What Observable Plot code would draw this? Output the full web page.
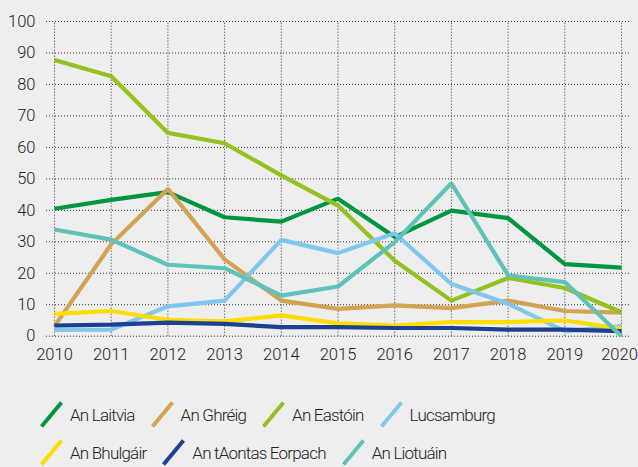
<!DOCTYPE html>
<html>
<head>
<meta charset="utf-8">
<script src="https://cdn.jsdelivr.net/npm/d3@7"></script>
<script src="https://cdn.jsdelivr.net/npm/@observablehq/plot@0.6"></script>
<style>
  html, body { margin: 0; padding: 0; background: #eeeeee; }
  body { width: 638px; height: 467px; overflow: hidden; font-family: Roboto, "Noto Sans", sans-serif; color: #333; }
  #legend { padding-left: 40px; margin-top: 31px; font-size: 17px; font-weight: 300; letter-spacing: -0.8px; color: #222; }
  .row { display: flex; align-items: center; height: 27px; margin-bottom: 11px; }
  .item { display: flex; align-items: center; margin-right: 16px; }
  .item svg { margin-right: 7px; display: block; }
</style>
</head>
<body>
<div id="chart"></div>
<div id="legend"></div>
<script>
const years = [2010, 2011, 2012, 2013, 2014, 2015, 2016, 2017, 2018, 2019, 2020];
const yTicks = [0, 10, 20, 30, 40, 50, 60, 70, 80, 90, 100];

const names = ["An Laitvia", "An Ghréig", "An Eastóin", "Lucsamburg", "An Bhulgáir", "An tAontas Eorpach", "An Liotuáin"];
const colors = ["#00963f", "#d1a352", "#95c11f", "#80c7ef", "#ffdd00", "#1d3f91", "#5fc2b9"];

const laitvia    = [40.5, 43.3, 45.8, 37.8, 36.4, 43.7, 31.5, 39.9, 37.5, 22.9, 21.8];
const ghreig     = [3.2, 29.2, 46.8, 24.4, 11.3, 8.7, 9.8, 8.9, 11.3, 8.0, 7.5];
const eastoin    = [87.8, 82.6, 64.6, 61.3, 51.1, 41.5, 24.0, 11.3, 18.5, 15.3, 7.6];
const lucsamburg = [2.0, 2.1, 9.5, 11.3, 30.6, 26.4, 32.7, 16.6, 10.3, 1.6, 3.2];
const bhulgair   = [7.1, 8.0, 5.2, 4.7, 6.6, 4.1, 3.4, 4.5, 4.5, 5.0, 2.4];
const aontas     = [3.4, 3.7, 4.3, 3.9, 2.9, 2.9, 2.6, 2.6, 2.1, 2.1, 1.6];
const liotuain   = [33.9, 30.7, 22.7, 21.6, 12.9, 15.8, 29.9, 48.6, 19.3, 17.2, 0.0];

const seriesValues = [laitvia, ghreig, eastoin, lucsamburg, bhulgair, aontas, liotuain];
const data = [];
names.forEach((n, i) => {
  seriesValues[i].forEach((v, j) => data.push({country: n, year: years[j], value: v}));
});

const lastYear = years[years.length - 1];

const chart = Plot.plot({
  width: 638,
  height: 370,
  marginLeft: 46,
  marginRight: 8,
  marginTop: 21,
  marginBottom: 34.3,
  style: { background: "transparent", fontFamily: "Roboto, 'Noto Sans', sans-serif", fontSize: "16px", fontWeight: 300, color: "#222" },
  x: { domain: [2010, 2020], insetLeft: 8, insetRight: 9 },
  y: { domain: [0, 100] },
  color: { domain: names, range: colors },
  marks: [
    Plot.ruleY(yTicks, { stroke: "#333", strokeDasharray: "1,2", strokeWidth: 1 }),
    Plot.ruleX(years, { y1: 0, y2: 100, stroke: "#333", strokeDasharray: "1,2", strokeWidth: 1 }),
    Plot.axisY(yTicks, { tickSize: 0, tickPadding: 11, fontSize: 16.5, label: null }),
    Plot.axisX(years.slice(0, -1), { tickSize: 0, tickPadding: 12, fontSize: 16.5, tickFormat: d => String(d), label: null }),
    Plot.axisX([lastYear], { tickSize: 0, tickPadding: 12, fontSize: 16.5, dx: -2, tickFormat: d => String(d), label: null }),
    Plot.line(data, { x: "year", y: "value", z: "country", stroke: "country", strokeWidth: 4.2, strokeLinejoin: "miter", strokeLinecap: "butt" })
  ]
});
document.getElementById("chart").appendChild(chart);

const rows = [[0, 1, 2, 3], [4, 5, 6]];
const legend = document.getElementById("legend");
rows.forEach(r => {
  const row = document.createElement("div");
  row.className = "row";
  r.forEach(i => {
    const item = document.createElement("div");
    item.className = "item";
    item.innerHTML = `<svg width="23" height="27"><line x1="1.5" y1="25.5" x2="21.5" y2="1.5" stroke="${colors[i]}" stroke-width="4"/></svg><span>${names[i]}</span>`;
    row.appendChild(item);
  });
  legend.appendChild(row);
});
</script>
</body>
</html>
